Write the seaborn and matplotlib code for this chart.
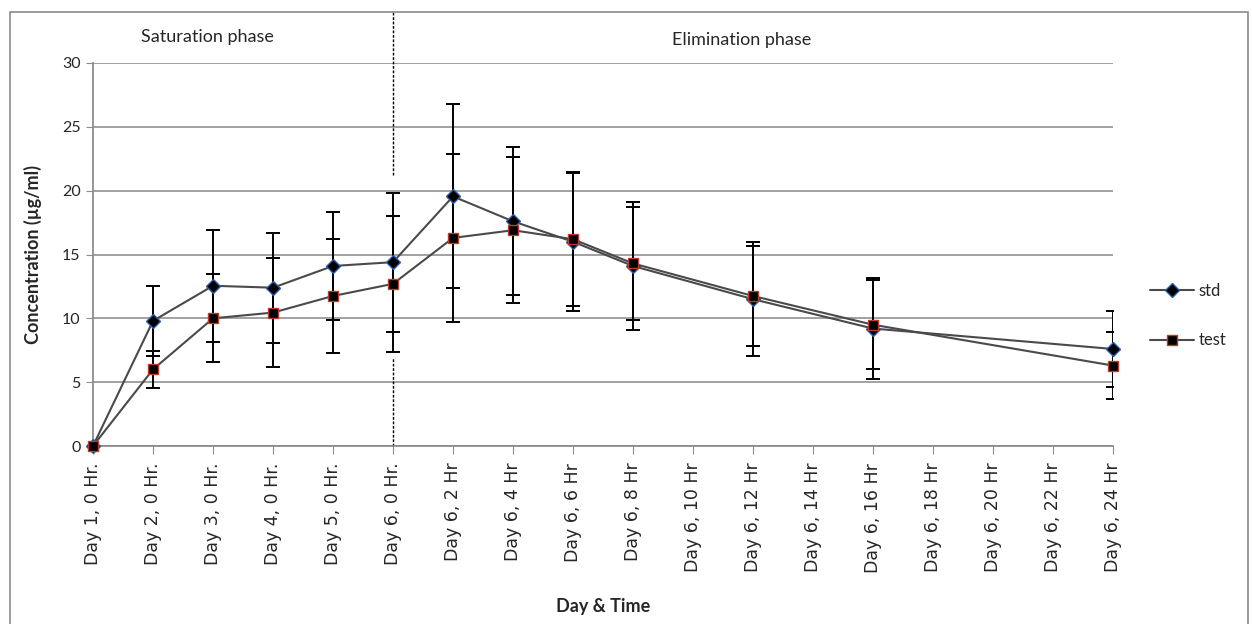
import pandas as pd
import matplotlib.pyplot as plt
import seaborn as sns
from matplotlib.patches import Rectangle

# categories on the x axis (evenly spaced, Excel style)
times = ["Day 1, 0 Hr.", "Day 2, 0 Hr.", "Day 3, 0 Hr.", "Day 4, 0 Hr.", "Day 5, 0 Hr.",
         "Day 6, 0 Hr.", "Day 6, 2 Hr", "Day 6, 4 Hr", "Day 6, 6 Hr", "Day 6, 8 Hr",
         "Day 6, 10 Hr", "Day 6, 12 Hr", "Day 6, 14 Hr", "Day 6, 16 Hr", "Day 6, 18 Hr",
         "Day 6, 20 Hr", "Day 6, 22 Hr", "Day 6, 24 Hr"]
# mean concentration and error (None = no sample at that time)
std_mean = [0, 9.8, 12.55, 12.4, 14.1, 14.4, 19.55, 17.6, 16.0, 14.1, None, 11.5, None, 9.2, None, None, None, 7.6]
std_err = [0, 2.75, 4.4, 4.3, 4.25, 5.45, 7.2, 5.8, 5.4, 5.0, None, 4.45, None, 3.95, None, None, None, 2.95]
test_mean = [0, 6.0, 10.0, 10.45, 11.75, 12.7, 16.3, 16.9, 16.2, 14.3, None, 11.75, None, 9.5, None, None, None, 6.3]
test_err = [0, 1.45, 3.45, 4.3, 4.45, 5.35, 6.6, 5.7, 5.25, 4.45, None, 3.95, None, 3.5, None, None, None, 2.65]

df = pd.DataFrame({"time": times, "pos": range(len(times)),
                   "std": std_mean, "std_err": std_err,
                   "test": test_mean, "test_err": test_err})

sns.set_style("white")
plt.rcParams['font.family'] = ['Lato', 'DejaVu Sans']

fig = plt.figure(figsize=(12.52, 6.24), dpi=100)
ax = fig.add_axes([93 / 1252, 1 - 446 / 624, (1113 - 93) / 1252, (446 - 63) / 624])

series = [("std", "D", "#2a5ca8", 7), ("test", "s", "#c0392b", 6.5)]
for name, mk, edge, ms in series:
    d = df.dropna(subset=[name])
    e = d[d[name + "_err"] > 0]
    ax.errorbar(e["pos"], e[name], yerr=e[name + "_err"], fmt="none", ecolor="black",
                elinewidth=1.4, capsize=5, capthick=1.4, zorder=3)
    sns.lineplot(data=d, x="pos", y=name, ax=ax, color="#4a4a4a", linewidth=1.5,
                 marker=mk, markersize=ms, markerfacecolor="black", markeredgecolor=edge,
                 markeredgewidth=1.0, label=name, zorder=4, clip_on=False)

# phase separator (dotted line at Day 6, 0 Hr)
split = times.index("Day 6, 0 Hr.")
ax.plot([split, split], [21.2, 34.0], color="black", lw=1, ls=(0, (2, 1.2)), clip_on=False)
ax.plot([split, split], [0, 7.0], color="black", lw=1, ls=(0, (2, 1.2)), clip_on=False)

ax.set_xlim(0, len(times) - 1)
ax.set_ylim(0, 30)
ax.set_yticks(range(0, 31, 5))
ax.set_xticks(df["pos"])
ax.set_xticklabels(times, rotation=90, fontsize=12.5, family=['DejaVu Sans'])
ax.tick_params(axis="y", labelsize=11.5, length=5, color="#8c8c8c", direction="out", left=True, pad=4)
ax.tick_params(axis="x", length=6, color="#8c8c8c", direction="out", bottom=True, pad=6)
ax.yaxis.grid(True, color="#9a9a9a", linewidth=1.3)
ax.xaxis.grid(False)
for s in ["top", "right"]:
    ax.spines[s].set_visible(False)
for s in ["left", "bottom"]:
    ax.spines[s].set_color("#8c8c8c")
    ax.spines[s].set_linewidth(1.3)

ax.set_xlabel("Day & Time", fontsize=13, fontweight="bold", labelpad=18)
ax.set_ylabel("Concentration (µg/ml)", fontsize=13, fontweight="bold", labelpad=14)

ax.legend(loc="center left", bbox_to_anchor=(1.022, 0.34), frameon=False, fontsize=12,
          handlelength=2.6, labelspacing=2.0, handletextpad=0.3)

fig.text(207 / 1252, 1 - 37 / 624, "Saturation phase", ha="center", va="center", fontsize=13)
fig.text(742 / 1252, 1 - 40 / 624, "Elimination phase", ha="center", va="center", fontsize=13)

# chart area border
fig.patches.append(Rectangle((10 / 1252, -0.02), 1238 / 1252, 1.02 - 12 / 624,
                             transform=fig.transFigure, fill=False, edgecolor="#8a8a8a", lw=1.2))

fig.savefig("out.png", dpi=100)
